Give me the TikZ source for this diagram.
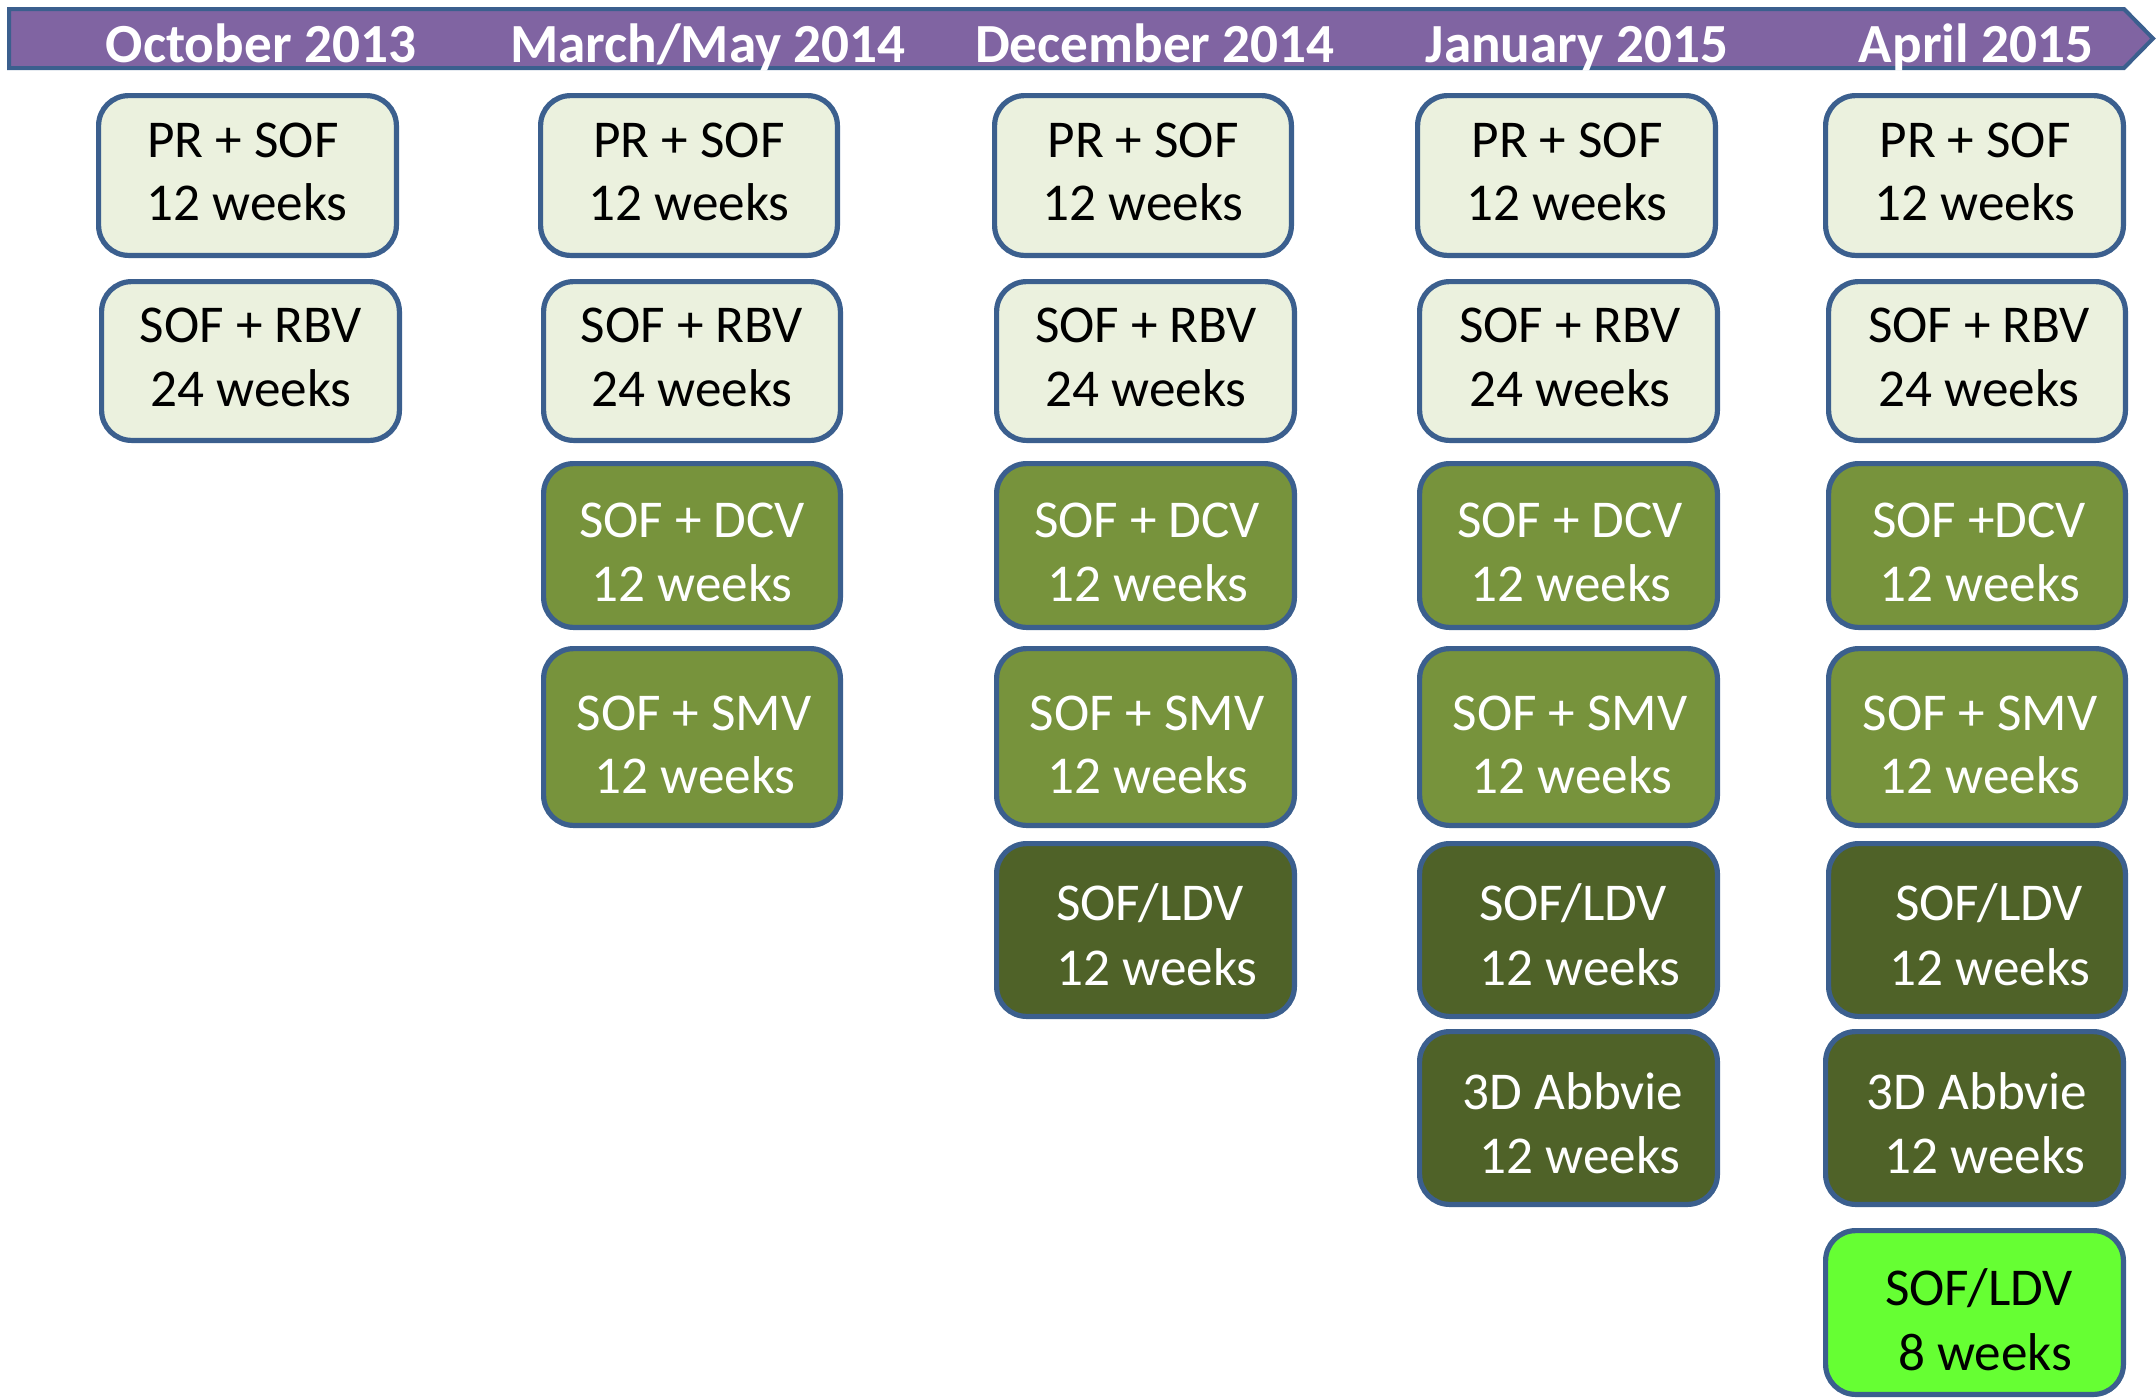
\documentclass[tikz,border=0pt]{standalone}
\usepackage{fontspec}
\setmainfont{Carlito}
\definecolor{bord}{HTML}{3B5F8E}
\definecolor{purp}{HTML}{8064A2}
\definecolor{lightc}{HTML}{EBF1DE}
\definecolor{midc}{HTML}{77933C}
\definecolor{darkc}{HTML}{4F6228}
\definecolor{brightc}{HTML}{66FF33}
\tikzset{
  bx/.style={draw=bord, line width=2.6pt, rounded corners=15pt, inner sep=0pt, outer sep=0pt},
  lt/.style={bx, fill=lightc},
  md/.style={bx, fill=midc},
  dk/.style={bx, fill=darkc},
  br/.style={bx, fill=brightc},
  tk/.style={anchor=base, inner sep=0pt, font=\fontsize{26.6}{31.5}\selectfont, text=black},
  tw/.style={tk, text=white},
  hd/.style={anchor=base, inner sep=0pt, font=\fontsize{27.6}{33}\selectfont\bfseries, text=white},
}
% box: name, style, x1, y1, x2, y2 (outer edges in px)
\newcommand\mkbox[6]{\node[#2, minimum width={(#5-#3)*0.5pt-2.6pt}, minimum height={(#6-#4)*0.5pt-2.6pt}] (#1) at ({(#3+#5)/2},{(#4+#6)/2}) {};}
% text line: name, style, x, baseline y, text
\newcommand\mkline[5]{\node[#2] (#1) at (#3,#4) {#5};}
\begin{document}
\begin{tikzpicture}[x=0.5pt,y=-0.5pt]
\useasboundingbox (0,0) rectangle (2156,1399);
% banner
\draw[bord, line width=2pt, fill=purp] (9,9) -- (2124,9) -- (2153,38.5) -- (2124,68) -- (9,68) -- cycle;
\node[hd] (h1) at (261,62) {October 2013};
\node[hd] (h2) at (708,62) {March/May 2014};
\node[hd] (h3) at (1155,62) {December 2014};
\node[hd] (h4) at (1577,62) {January 2015};
\node[hd] (h5) at (1976,62) {April 2015};
% column 1
\mkbox{b11}{lt}{96}{93}{399}{258}
\mkline{b11a}{tk}{243}{157}{PR + SOF}
\mkline{b11b}{tk}{247}{220}{12 weeks}
\mkbox{b12}{lt}{99}{279}{402}{443}
\mkline{b12a}{tk}{251}{342}{SOF + RBV}
\mkline{b12b}{tk}{251}{406}{24 weeks}
% column 2
\mkbox{b21}{lt}{538}{93}{840}{258}
\mkline{b21a}{tk}{689}{157}{PR + SOF}
\mkline{b21b}{tk}{689}{220}{12 weeks}
\mkbox{b22}{lt}{541}{279}{843}{443}
\mkline{b22a}{tk}{692}{342}{SOF + RBV}
\mkline{b22b}{tk}{692}{406}{24 weeks}
\mkbox{b23}{md}{541}{461}{843}{630}
\mkline{b23a}{tw}{692}{537}{SOF + DCV}
\mkline{b23b}{tw}{692}{601}{12 weeks}
\mkbox{b24}{md}{541}{646}{843}{828}
\mkline{b24a}{tw}{694}{730}{SOF + SMV}
\mkline{b24b}{tw}{695}{793}{12 weeks}
% column 3
\mkbox{b31}{lt}{992}{93}{1294}{258}
\mkline{b31a}{tk}{1143}{157}{PR + SOF}
\mkline{b31b}{tk}{1143}{220}{12 weeks}
\mkbox{b32}{lt}{994}{279}{1297}{443}
\mkline{b32a}{tk}{1146}{342}{SOF + RBV}
\mkline{b32b}{tk}{1146}{406}{24 weeks}
\mkbox{b33}{md}{994}{461}{1297}{630}
\mkline{b33a}{tw}{1147}{537}{SOF + DCV}
\mkline{b33b}{tw}{1148}{601}{12 weeks}
\mkbox{b34}{md}{994}{646}{1297}{828}
\mkline{b34a}{tw}{1147}{730}{SOF + SMV}
\mkline{b34b}{tw}{1148}{793}{12 weeks}
\mkbox{b35}{dk}{994}{841}{1297}{1019}
\mkline{b35a}{tw}{1150}{920}{SOF/LDV}
\mkline{b35b}{tw}{1157}{985}{12 weeks}
% column 4
\mkbox{b41}{lt}{1415}{93}{1718}{258}
\mkline{b41a}{tk}{1567}{157}{PR + SOF}
\mkline{b41b}{tk}{1567}{220}{12 weeks}
\mkbox{b42}{lt}{1417}{279}{1720}{443}
\mkline{b42a}{tk}{1570}{342}{SOF + RBV}
\mkline{b42b}{tk}{1570}{406}{24 weeks}
\mkbox{b43}{md}{1417}{461}{1720}{630}
\mkline{b43a}{tw}{1570}{537}{SOF + DCV}
\mkline{b43b}{tw}{1571}{601}{12 weeks}
\mkbox{b44}{md}{1417}{646}{1720}{828}
\mkline{b44a}{tw}{1570}{730}{SOF + SMV}
\mkline{b44b}{tw}{1572}{793}{12 weeks}
\mkbox{b45}{dk}{1417}{841}{1720}{1019}
\mkline{b45a}{tw}{1573}{920}{SOF/LDV}
\mkline{b45b}{tw}{1580}{985}{12 weeks}
\mkbox{b46}{dk}{1417}{1029}{1720}{1207}
\mkline{b46a}{tw}{1573}{1109}{3D Abbvie}
\mkline{b46b}{tw}{1580}{1173}{12 weeks}
% column 5
\mkbox{b51}{lt}{1823}{93}{2126}{258}
\mkline{b51a}{tk}{1975}{157}{PR + SOF}
\mkline{b51b}{tk}{1975}{220}{12 weeks}
\mkbox{b52}{lt}{1826}{279}{2128}{443}
\mkline{b52a}{tk}{1979}{342}{SOF + RBV}
\mkline{b52b}{tk}{1979}{406}{24 weeks}
\mkbox{b53}{md}{1826}{461}{2128}{630}
\mkline{b53a}{tw}{1979}{537}{SOF +DCV}
\mkline{b53b}{tw}{1980}{601}{12 weeks}
\mkbox{b54}{md}{1826}{646}{2128}{828}
\mkline{b54a}{tw}{1980}{730}{SOF + SMV}
\mkline{b54b}{tw}{1980}{793}{12 weeks}
\mkbox{b55}{dk}{1826}{841}{2128}{1019}
\mkline{b55a}{tw}{1989}{920}{SOF/LDV}
\mkline{b55b}{tw}{1990}{985}{12 weeks}
\mkbox{b56}{dk}{1823}{1029}{2126}{1207}
\mkline{b56a}{tw}{1977}{1109}{3D Abbvie}
\mkline{b56b}{tw}{1985}{1173}{12 weeks}
\mkbox{b57}{br}{1823}{1228}{2126}{1397}
\mkline{b57a}{tk}{1979}{1305}{SOF/LDV}
\mkline{b57b}{tk}{1985}{1370}{8 weeks}
\end{tikzpicture}
\end{document}
